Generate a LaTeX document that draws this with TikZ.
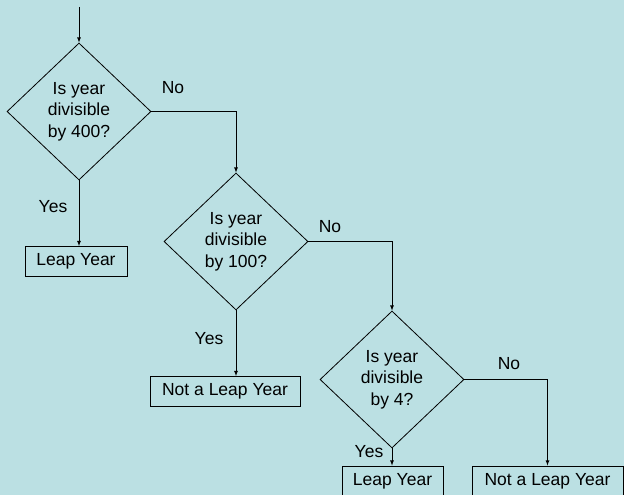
\documentclass[tikz,border=0pt]{standalone}
\usepackage{fontspec}
\setmainfont{Liberation Sans}
\usetikzlibrary{positioning,shapes.geometric}
\definecolor{paleblue}{RGB}{187,224,227}

\begin{document}
\begin{tikzpicture}[x=1pt, y=-1pt, >=latex, line width=0.8pt,
        decision/.style={draw, diamond, minimum width=144pt, minimum height=137pt, inner sep=0pt, align=center, font=\fontsize{17.5}{21.5}\selectfont},
        result/.style={draw, rectangle, minimum height=30pt, inner sep=0pt, font=\fontsize{17.5}{21.5}\selectfont},
        answer/.style={inner sep=0pt, font=\fontsize{17.5}{21.5}\selectfont}]
        \fill[paleblue] (0,0) rectangle (624,495);
        \useasboundingbox (0,0) rectangle (624,495);

        \coordinate (start) at (79,7);
        \node[decision] (q400) at (79,111.5) {Is year\\divisible\\by 400?};
        \node[decision] (q100) at (236,241.5) {Is year\\divisible\\by 100?};
        \node[decision] (q4) at (392,379.5) {Is year\\divisible\\by 4?};

        \node[result, minimum width=102pt] (leap1) at (76,261.5) {Leap Year};
        \node[result, minimum width=150pt] (notleap1) at (225,391.5) {Not a Leap Year};
        \node[result, minimum width=101pt] (leap2) at (392.5,481) {Leap Year};
        \node[result, minimum width=151pt] (notleap2) at (547.5,481) {Not a Leap Year};

        \draw[->] (start) -- (q400.north);
        \draw[->] (q400.east) -| (q100.north);
        \draw[->] (q100.east) -| (q4.north);
        \draw[->] (q4.east) -| (q4.east -| notleap2.north) -- ++(0,86);
        \draw[->] (q400.south) -- (q400.south |- leap1.north);
        \draw[->] (q100.south) -- (q100.south |- notleap1.north);
        \draw[->] (q4.south) -- (q4.south |- leap2.north);

        \node[answer] (no1) at (173,88) {No};
        \node[answer] (yes1) at (53,207) {Yes};
        \node[answer] (no2) at (330,227) {No};
        \node[answer] (yes2) at (209,339) {Yes};
        \node[answer] (no3) at (509,364) {No};
        \node[answer] (yes3) at (369,452) {Yes};
    \end{tikzpicture}
\end{document}
